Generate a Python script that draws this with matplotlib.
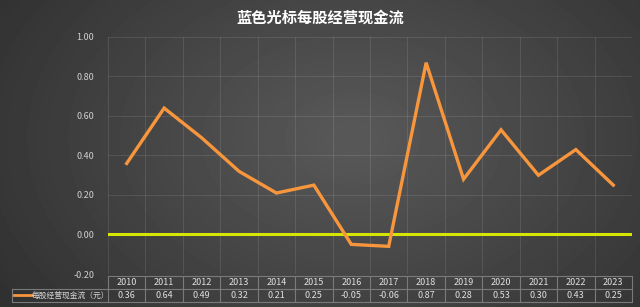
import numpy as np
import matplotlib
matplotlib.use('Agg')
from matplotlib import pyplot as plt
from matplotlib.transforms import blended_transform_factory

plt.rcParams['font.family'] = ['Noto Sans CJK SC', 'DejaVu Sans']

years = ['2010', '2011', '2012', '2013', '2014', '2015', '2016',
         '2017', '2018', '2019', '2020', '2021', '2022', '2023']
values = [0.36, 0.64, 0.49, 0.32, 0.21, 0.25, -0.05,
          -0.06, 0.87, 0.28, 0.53, 0.30, 0.43, 0.25]
series_name = '每股经营现金流（元）'
title = '蓝色光标每股经营现金流'
yticks = [-0.2, 0.0, 0.2, 0.4, 0.6, 0.8, 1.0]

W, H = 640, 307
fig = plt.figure(figsize=(W / 100, H / 100), dpi=100)

# radial gradient background
bg = fig.add_axes([0, 0, 1, 1])
yy, xx = np.mgrid[0:H, 0:W]
r = np.sqrt(((xx - W * 0.55) / (W * 0.7)) ** 2 + ((yy - H * 0.45) / (H * 1.0)) ** 2)
shade = np.clip(0.35 - 0.17 * r, 0.15, 0.34)
bg.imshow(shade, cmap='gray', vmin=0, vmax=1, aspect='auto', extent=[0, 1, 0, 1])
bg.axis('off')

left, right, top, bottom = 108, 632, 37, 274
ax = fig.add_axes([left / W, 1 - bottom / H, (right - left) / W, (bottom - top) / H])
ax.patch.set_alpha(0)
x = np.arange(len(years))
ax.set_xlim(-0.5, len(years) - 0.5)
ax.set_ylim(-0.2, 1.0)

grid_c = '#ffffff'
for yv in yticks:
    ax.axhline(yv, color=grid_c, alpha=0.1, lw=0.8, zorder=1)
for xb in np.arange(-0.5, len(years), 1):
    ax.axvline(xb, color=grid_c, alpha=0.1, lw=0.8, zorder=1)
ax.axhline(0, color='#d6e600', lw=2.2, zorder=2)
ax.plot(x, values, color='#f7963c', lw=2.4, zorder=3, solid_joinstyle='miter')

for s in ax.spines.values():
    s.set_visible(False)
ax.set_xticks([])
ax.set_yticks(yticks)
ax.set_yticklabels(['%.2f' % v for v in yticks], color='#d0d0d0', fontsize=6.5)
ax.tick_params(axis='y', length=0, pad=10)

# data table below
tr = blended_transform_factory(ax.transData, fig.transFigure)
row1 = (276, 289)
row2 = (289, 302)
tc = '#7a7a7a'
def fy(p):
    return 1 - p / H
for i, yr in enumerate(years):
    ax.text(i, fy((row1[0] + row1[1]) / 2), yr, transform=tr, ha='center', va='center',
            color='#e0e0e0', fontsize=6.5, clip_on=False)
    ax.text(i, fy((row2[0] + row2[1]) / 2), '%.2f' % values[i], transform=tr, ha='center',
            va='center', color='#e0e0e0', fontsize=6.5, clip_on=False)
for xb in np.arange(-0.5, len(years), 1):
    ax.plot([xb, xb], [fy(row1[0]), fy(row2[1])], transform=tr, color=tc, lw=0.8, clip_on=False)
for yp in (row1[0], row1[1], row2[1]):
    ax.plot([-0.5, len(years) - 0.5], [fy(yp), fy(yp)], transform=tr, color=tc, lw=0.8, clip_on=False)

# legend cell
lx0, lx1 = 12, left
fig.add_artist(plt.Line2D([lx0 / W, lx1 / W], [fy(row1[1])] * 2, color=tc, lw=0.8))
fig.add_artist(plt.Line2D([lx0 / W, lx1 / W], [fy(row2[1])] * 2, color=tc, lw=0.8))
fig.add_artist(plt.Line2D([lx0 / W, lx0 / W], [fy(row1[1]), fy(row2[1])], color=tc, lw=0.8))
fig.add_artist(plt.Line2D([14 / W, 32 / W], [fy(295)] * 2, color='#f7963c', lw=2))
fig.text(32 / W, fy(295.5), series_name, color='#d8d8d8', fontsize=5.6, va='center', ha='left')

fig.text(0.5, fy(18), title, color='white', fontsize=11, fontweight='bold', ha='center', va='center')

fig.savefig('out.png', dpi=100)
